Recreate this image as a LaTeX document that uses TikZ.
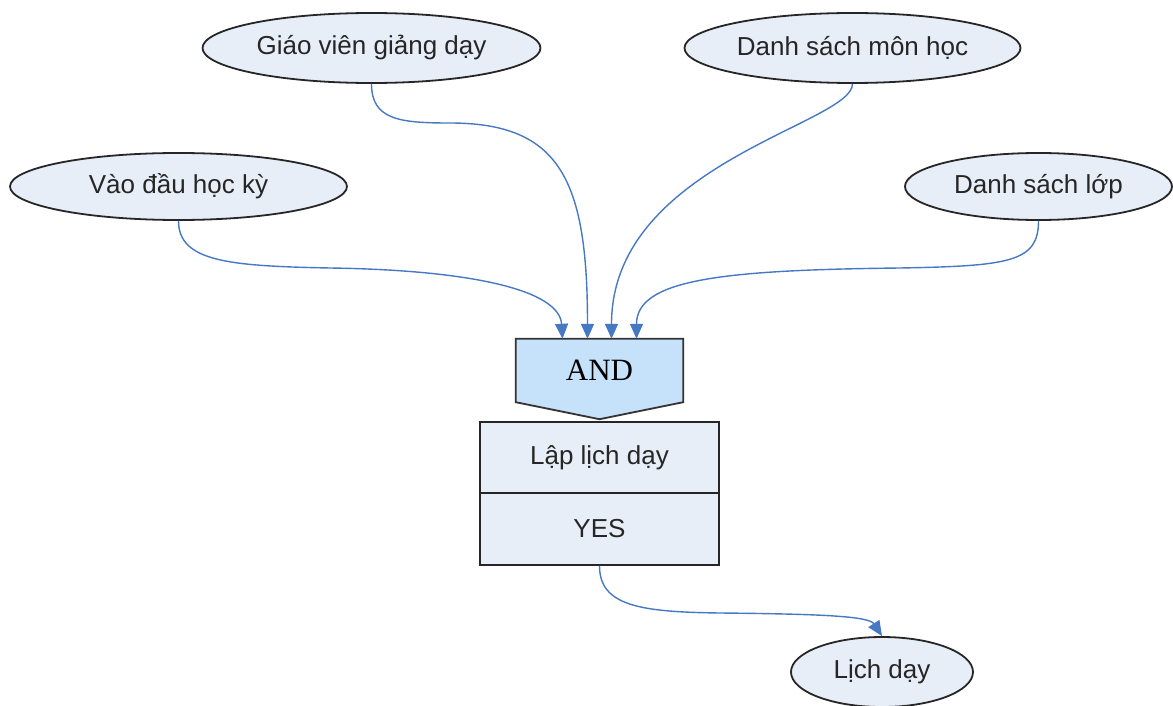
\documentclass[tikz,border=0pt]{standalone}
\usepackage{fontspec}
\usetikzlibrary{shapes.geometric,arrows.meta,calc}
\newfontfamily\labfont{Liberation Sans}
\newfontfamily\gatefont{Liberation Serif}
\definecolor{linkblue}{RGB}{70,120,195}
\definecolor{ovalfill}{RGB}{232,238,248}
\definecolor{gatefill}{RGB}{198,225,250}
\definecolor{boxfill}{RGB}{232,238,248}
\begin{document}
\begin{tikzpicture}[x=1pt,y=-1pt,
  oval/.style={ellipse,draw=black!85,line width=1.8pt,fill=ovalfill,inner sep=0pt,
    font=\labfont\fontsize{26}{30}\selectfont,text=black!85},
  cell/.style={rectangle,draw=black!85,line width=1.6pt,fill=boxfill,inner sep=0pt,
    minimum width=239pt,font=\labfont\fontsize{26}{30}\selectfont,text=black!85},
  conn/.style={draw=linkblue,line width=1.4pt,-{Triangle[length=15pt,width=13pt]}}]
\useasboundingbox (0,0) rectangle (1173,706);

% input conditions
\node[oval,minimum width=338pt,minimum height=70pt] (gv) at (371.5,48) {Giáo viên giảng dạy};
\node[oval,minimum width=336pt,minimum height=70pt] (dsmh) at (852.5,48) {Danh sách môn học};
\node[oval,minimum width=337pt,minimum height=67pt] (vao) at (178.5,186.5) {Vào đầu học kỳ};
\node[oval,minimum width=267pt,minimum height=67pt] (dsl) at (1038.5,186.5) {Danh sách lớp};

% AND gate
\node[rectangle,inner sep=0pt,minimum width=167pt,minimum height=63pt] (and) at (599.5,370.5) {};
\draw[black!80,fill=gatefill,line width=1.8pt,line join=miter] (and.north west) -- (and.north east) -- (and.south east)
  -- ($(and.south)+(0,17)$) -- (and.south west) -- cycle;
\node[font=\gatefont\fontsize{31}{34}\selectfont] at (and.center) {AND};

% process box
\node[cell,minimum height=71pt] (lap) at (599.5,457.5) {Lập lịch dạy};
\node[cell,minimum height=72pt] (yes) at (599.5,529) {YES};

% output
\node[oval,minimum width=182pt,minimum height=70pt] (ld) at (882,672) {Lịch dạy};

% connector waypoints
\coordinate (c1) at ($(and.north)+(-37,0)$);
\coordinate (c2) at ($(and.north)+(-12,0)$);
\coordinate (c3) at ($(and.north)+(12,0)$);
\coordinate (c4) at ($(and.north)+(37,0)$);
\coordinate (m1) at (330,268);
\coordinate (m2) at (450,123);
\coordinate (m4) at (900,268);
\coordinate (m5) at (720,613);

\draw[conn] (vao.south) .. controls +(0,41) and +(-100,-2) .. (m1)
  .. controls +(140,2) and +(-3,-49) .. (c1);
\draw[conn] (gv.south) .. controls +(0,36) and +(-50,0) .. (m2)
  .. controls +(110,0) and +(0,-159) .. (c2);
\draw[conn] (dsmh.south) .. controls +(0,40) and +(0,-175) .. (c3);
\draw[conn] (dsl.south) .. controls +(0,41) and +(110,-2) .. (m4)
  .. controls +(-180,2) and +(0,-59) .. (c4);
\draw[conn] (yes.south) .. controls +(0,40) and +(-80,-1) .. (m5)
  .. controls +(100,1) and +(-13,-20) .. (ld.north);
\end{tikzpicture}
\end{document}
